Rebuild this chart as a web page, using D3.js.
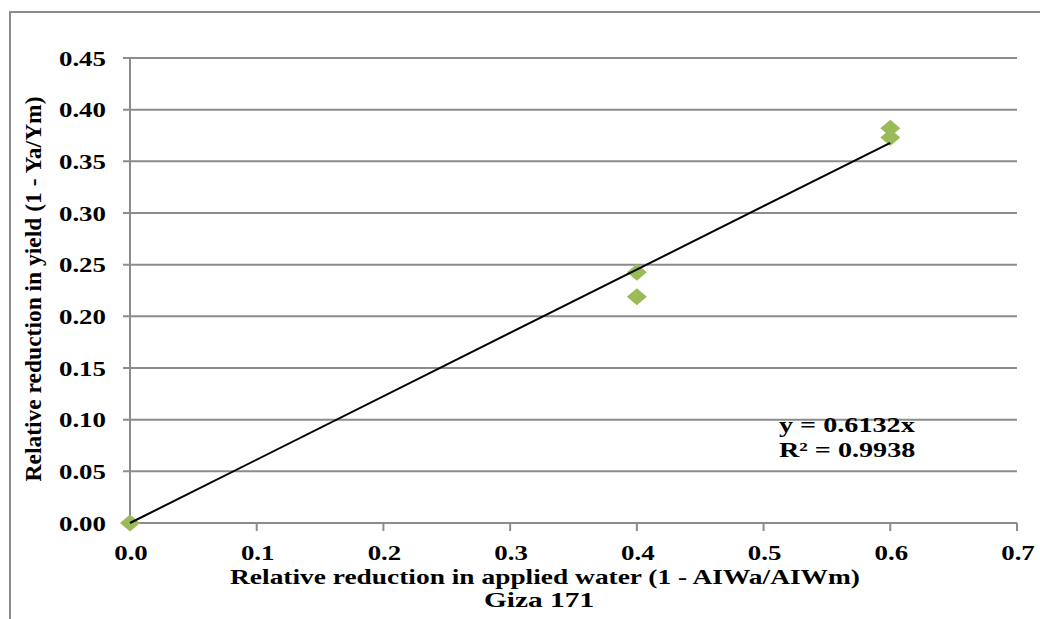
<!DOCTYPE html>
<html><head><meta charset="utf-8">
<script src="https://cdn.jsdelivr.net/npm/d3@7/dist/d3.min.js"></script>
<style>body{margin:0;background:#fff}svg{display:block}text{font-family:"Liberation Serif","Times New Roman",serif;font-weight:bold;fill:#000}</style>
</head><body>
<svg id="c" width="1040" height="619"></svg>
<script>
const xValues = [0.0, 0.4, 0.4, 0.6, 0.6];
const yValues = [0.0, 0.2426, 0.219, 0.382, 0.373];
const xTicks = [0.0, 0.1, 0.2, 0.3, 0.4, 0.5, 0.6, 0.7];
const yTicks = [0.00, 0.05, 0.10, 0.15, 0.20, 0.25, 0.30, 0.35, 0.40, 0.45];
const slope = 0.6132;
const r2 = 0.9938;
const xTitle = "Relative reduction in applied water (1 - AIWa/AIWm)";
const subTitle = "Giza 171";
const yTitle = "Relative reduction in yield (1 - Ya/Ym)";

const svg = d3.select("#c");
const x = d3.scaleLinear().domain([0, 0.7]).range([130, 1017]);
const y = d3.scaleLinear().domain([0, 0.45]).range([523, 58]);
const grid = "#8c8c8c";

// outer frame
svg.append("rect").attr("x",10).attr("y",12).attr("width",1060).attr("height",640)
  .attr("fill","none").attr("stroke",grid).attr("stroke-width",2);

// horizontal gridlines with left tick
svg.append("g").selectAll("line").data(yTicks.filter(d=>d>0)).join("line")
  .attr("x1",123).attr("x2",x(0.7)).attr("y1",d=>y(d)).attr("y2",d=>y(d))
  .attr("stroke",grid).attr("stroke-width",2);

// y axis
svg.append("line").attr("x1",x(0)).attr("x2",x(0)).attr("y1",y(0.45)).attr("y2",y(0))
  .attr("stroke",grid).attr("stroke-width",2);
svg.append("line").attr("x1",123).attr("x2",x(0)).attr("y1",y(0)).attr("y2",y(0))
  .attr("stroke",grid).attr("stroke-width",2);
// x axis
svg.append("line").attr("x1",x(0)).attr("x2",x(0.7)).attr("y1",y(0)).attr("y2",y(0))
  .attr("stroke",grid).attr("stroke-width",2);
svg.append("g").selectAll("line").data(xTicks).join("line")
  .attr("x1",d=>x(d)).attr("x2",d=>x(d)).attr("y1",y(0)).attr("y2",y(0)+8)
  .attr("stroke",grid).attr("stroke-width",2);

function stext(g, tx, ty, str, size, anchor, sx){
  return g.append("text").attr("transform",`translate(${tx},${ty}) scale(${sx},1)`)
    .attr("text-anchor",anchor).attr("font-size",size).text(str);
}

// y tick labels
yTicks.forEach(d => stext(svg, 106, y(d)+7.5, d3.format(".2f")(d), 21, "end", 1.28));
// x tick labels
xTicks.forEach(d => stext(svg, x(d)+1, 559.5, d3.format(".1f")(d), 21, "middle", 1.28));

// titles
stext(svg, 545, 583.5, xTitle, 21, "middle", 1.305);
stext(svg, 539, 607, subTitle, 21, "middle", 1.4);
svg.append("text").attr("transform","translate(41,289) rotate(-90)")
  .attr("text-anchor","middle").attr("font-size",24)
  .attr("textLength",385).attr("lengthAdjust","spacingAndGlyphs").text(yTitle);

// markers
const diamond = (cx, cy) => `M${cx},${cy-8.5}L${cx+10},${cy}L${cx},${cy+8.5}L${cx-10},${cy}Z`;
svg.append("g").selectAll("path").data(xValues.map((v,i)=>[v,yValues[i]])).join("path")
  .attr("d",d=>diamond(x(d[0]),y(d[1]))).attr("fill","#9BBB59");

// trendline
const xmax = d3.max(xValues);
svg.append("line").attr("x1",x(0)).attr("y1",y(0)).attr("x2",x(xmax)).attr("y2",y(slope*xmax))
  .attr("stroke","#000").attr("stroke-width",2);

// equation
stext(svg, 779, 432, `y = ${slope}x`, 21.5, "start", 1.31);
stext(svg, 779, 457, `R² = ${r2}`, 21.5, "start", 1.31);
</script>
</body></html>
